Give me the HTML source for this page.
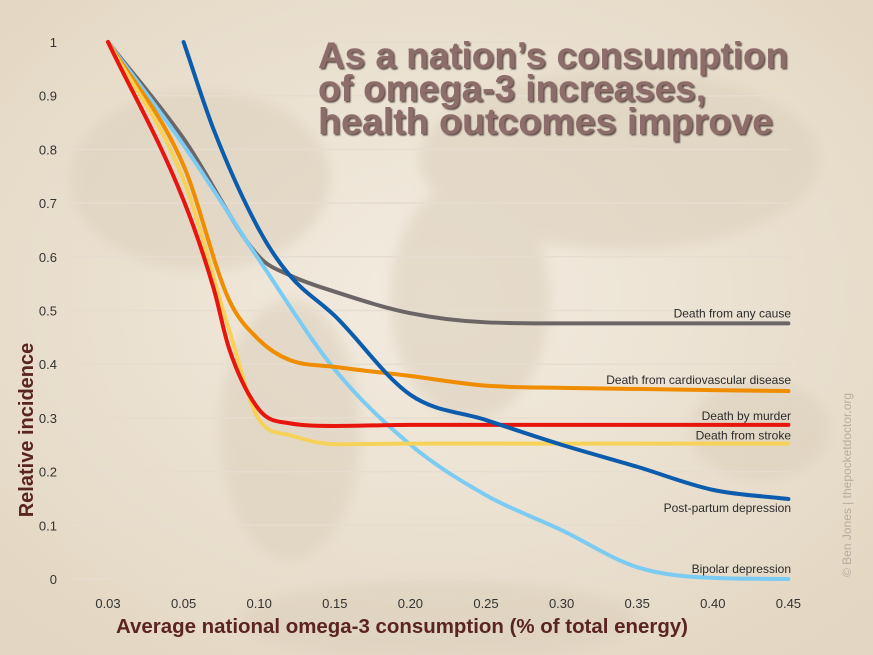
<!DOCTYPE html>
<html><head><meta charset="utf-8"><style>
body{margin:0;width:873px;height:655px;overflow:hidden;background:#efe6d8;font-family:"Liberation Sans",sans-serif}
svg{display:block}
</style></head><body>
<svg id="chart" width="873" height="655">
<defs>
<radialGradient id="bg" cx="50%" cy="45%" r="70%"><stop offset="0" stop-color="#f3ece0"/><stop offset="1" stop-color="#e3d6c2"/></radialGradient>
<filter id="blur"><feGaussianBlur stdDeviation="6"/></filter>
<filter id="ts"><feDropShadow dx="1.5" dy="1.5" stdDeviation="0.8" flood-color="#3a2a28" flood-opacity="0.8"/></filter>
</defs>
<rect width="873" height="655" fill="url(#bg)"/>
<g fill="#dccfbc" opacity="0.55" filter="url(#blur)">
<ellipse cx="200" cy="180" rx="130" ry="90"/>
<ellipse cx="290" cy="430" rx="70" ry="130"/>
<ellipse cx="470" cy="300" rx="80" ry="120"/>
<ellipse cx="620" cy="160" rx="200" ry="90"/>
<ellipse cx="760" cy="430" rx="70" ry="50"/>
<ellipse cx="440" cy="620" rx="200" ry="40"/>
</g>
<g id="grid"></g><g id="axes"></g><g id="series"></g>
<text font-size="37" font-weight="bold" fill="#8c6d6b" filter="url(#ts)"><tspan x="318" y="68" textLength="470" lengthAdjust="spacingAndGlyphs">As a nation’s consumption</tspan><tspan x="318" y="101" textLength="388" lengthAdjust="spacingAndGlyphs">of omega-3 increases,</tspan><tspan x="318" y="134" textLength="455" lengthAdjust="spacingAndGlyphs">health outcomes improve</tspan></text>
<text x="402" y="633" font-size="20" font-weight="bold" fill="#5a2420" text-anchor="middle" textLength="572" lengthAdjust="spacingAndGlyphs">Average national omega-3 consumption (% of total energy)</text>
<text transform="translate(33,430) rotate(-90)" font-size="20" font-weight="bold" fill="#5a2420" text-anchor="middle">Relative incidence</text>
<text transform="translate(851,485) rotate(-90)" font-size="12" fill="#b8aca0" text-anchor="middle">© Ben Jones | thepocketdoctor.org</text>
</svg>
<script>
const xTicks=[0.03,0.05,0.10,0.15,0.20,0.25,0.30,0.35,0.40,0.45];
const xTickLabels=["0.03","0.05","0.10","0.15","0.20","0.25","0.30","0.35","0.40","0.45"];
const yTicks=[0,0.1,0.2,0.3,0.4,0.5,0.6,0.7,0.8,0.9,1];
const yTickLabels=["0","0.1","0.2","0.3","0.4","0.5","0.6","0.7","0.8","0.9","1"];
const anyX=[0.03,0.05,0.10,0.12,0.15,0.20,0.25,0.30,0.45];
const anyY=[1.0,0.82,0.60,0.566,0.535,0.495,0.478,0.476,0.476];
const cvdX=[0.03,0.05,0.08,0.10,0.12,0.15,0.20,0.25,0.30,0.45];
const cvdY=[1.0,0.77,0.52,0.445,0.408,0.395,0.378,0.36,0.356,0.35];
const murX=[0.03,0.05,0.07,0.08,0.10,0.12,0.15,0.20,0.45];
const murY=[1.0,0.705,0.54,0.43,0.315,0.29,0.285,0.287,0.287];
const strX=[0.03,0.05,0.08,0.10,0.12,0.15,0.20,0.45];
const strY=[1.0,0.743,0.465,0.296,0.268,0.251,0.252,0.252];
const ppX=[0.05,0.07,0.10,0.12,0.15,0.20,0.25,0.30,0.35,0.40,0.45];
const ppY=[1.0,0.836,0.65,0.566,0.49,0.343,0.296,0.25,0.209,0.166,0.149];
const bpX=[0.03,0.05,0.10,0.15,0.20,0.25,0.30,0.35,0.40,0.45];
const bpY=[1.0,0.808,0.594,0.39,0.25,0.156,0.091,0.022,0.002,0.0];
const xPix0=108,xStep=75.6,y0=579,yH=537;
function xs(v){for(let i=0;i<xTicks.length-1;i++){if(v<=xTicks[i+1]||i==xTicks.length-2){return xPix0+(i+(v-xTicks[i])/(xTicks[i+1]-xTicks[i]))*xStep;}}}
function ys(v){return y0-v*yH;}
const NS="http://www.w3.org/2000/svg";
function mk(t,a,p){const e=document.createElementNS(NS,t);for(const k in a)e.setAttribute(k,a[k]);p.appendChild(e);return e;}
const grid=document.getElementById('grid'),axes=document.getElementById('axes'),ser=document.getElementById('series');
yTicks.forEach((t,i)=>{
 const l=mk('line',{x1:70,x2:790,y1:ys(t),y2:ys(t),stroke:'#e6ddd0','stroke-width':1.5},grid);
 
 
 const tx=mk('text',{x:57,y:ys(t)+5,'font-size':13,fill:'#333','text-anchor':'end'},axes);
 tx.textContent=yTickLabels[i];
 
 
});
xTicks.forEach((t,i)=>{
 const tx=mk('text',{x:xs(t),y:608,'font-size':13,fill:'#333','text-anchor':'middle'},axes);
 tx.textContent=xTickLabels[i];
 
 
});
function path(X,Y){
 const p=X.map((x,i)=>[xs(x),ys(Y[i])]);const n=p.length;
 const d=[],m=[];
 for(let i=0;i<n-1;i++)d.push((p[i+1][1]-p[i][1])/(p[i+1][0]-p[i][0]));
 m[0]=d[0];m[n-1]=d[n-2];
 for(let i=1;i<n-1;i++){m[i]=(d[i-1]*d[i]<=0)?0:(d[i-1]+d[i])/2;}
 for(let i=0;i<n-1;i++){if(d[i]===0){m[i]=0;m[i+1]=0;continue;}const a=m[i]/d[i],b=m[i+1]/d[i],s=a*a+b*b;if(s>9){const t=3/Math.sqrt(s);m[i]=t*a*d[i];m[i+1]=t*b*d[i];}}
 let s='M'+p[0][0]+','+p[0][1];
 for(let i=0;i<n-1;i++){const h=(p[i+1][0]-p[i][0])/3;
 s+=` C${p[i][0]+h},${p[i][1]+m[i]*h} ${p[i+1][0]-h},${p[i+1][1]-m[i+1]*h} ${p[i+1][0]},${p[i+1][1]}`;}
 return s;}
const series=[
 [anyX,anyY,'#6b6565','Death from any cause','series-any-cause',-6],
 [bpX,bpY,'#7ccbf2','Bipolar depression','series-bipolar',-6],
 [cvdX,cvdY,'#f08c00','Death from cardiovascular disease','series-cardiovascular',-7],
 [strX,strY,'#f7d25a','Death from stroke','series-stroke',-4],
 [murX,murY,'#e8150e','Death by murder','series-murder',-5],
 [ppX,ppY,'#0b5cad','Post-partum depression','series-postpartum',13]];
series.forEach(s=>{
 const p=mk('path',{d:path(s[0],s[1]),fill:'none',stroke:s[2],'stroke-width':4,'stroke-linecap':'round'},ser);
 
 
 const last=s[1][s[1].length-1];
 const t=mk('text',{x:791,y:ys(last)+s[5],'font-size':12,fill:'#2a2a2a','text-anchor':'end'},ser);
 t.textContent=s[3];
 
 
});
</script>
</body></html>
